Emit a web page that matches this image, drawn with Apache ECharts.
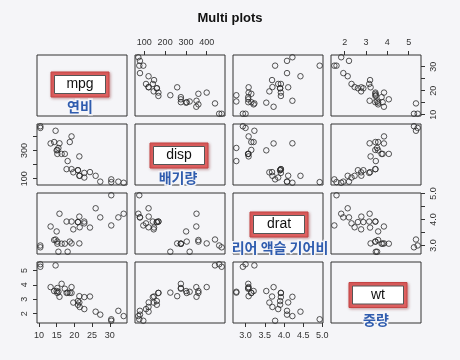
<!DOCTYPE html>
<html>
<head>
<meta charset="utf-8">
<script src="https://cdn.jsdelivr.net/npm/echarts@6/dist/echarts.min.js"></script>
<style>
html,body{margin:0;padding:0;background:#f5f5f8;}
#chart{width:460px;height:360px;}
</style>
</head>
<body>
<div id="chart"></div>
<script>
// ---- data (mtcars) ----
const varNames = ['mpg', 'disp', 'drat', 'wt'];
const koreanNames = ['연비', '배기량', '리어 액슬 기어비', '중량'];
const mpg  = [21.0,21.0,22.8,21.4,18.7,18.1,14.3,24.4,22.8,19.2,17.8,16.4,17.3,15.2,10.4,10.4,14.7,32.4,30.4,33.9,21.5,15.5,15.2,13.3,19.2,27.3,26.0,30.4,15.8,19.7,15.0,21.4];
const disp = [160,160,108,258,360,225,360,146.7,140.8,167.6,167.6,275.8,275.8,275.8,472,460,440,78.7,75.7,71.1,120.1,318,304,350,400,79,120.3,95.1,351,145,301,121];
const drat = [3.90,3.90,3.85,3.08,3.15,2.76,3.21,3.69,3.92,3.92,3.92,3.07,3.07,3.07,2.93,3.00,3.23,4.08,4.93,4.22,3.70,2.76,3.15,3.73,3.08,4.08,4.43,3.77,4.22,3.62,3.54,4.11];
const wt   = [2.620,2.875,2.320,3.215,3.440,3.460,3.570,3.190,3.150,3.440,3.440,4.070,3.730,3.780,5.250,5.424,5.345,2.200,1.615,1.835,2.465,3.520,3.435,3.840,3.845,1.935,2.140,1.513,3.170,2.770,3.570,2.780];

// tick positions and tick labels
const mpgTicks  = [10,15,20,25,30];
const dispTicks = [100,200,300,400];
const dratTicks = [3.0,3.5,4.0,4.5,5.0];
const wtTicks   = [2,3,4,5];
const mpgBottomLabels  = [10,15,20,25,30];
const mpgRightLabels   = [10,20,30];
const dispTopLabels    = [100,200,300,400];
const dispLeftLabels   = [100,300];
const dratBottomLabels = [3.0,3.5,4.0,4.5,5.0];
const dratRightLabels  = [3.0,4.0,5.0];
const wtTopLabels      = [2,3,4,5];
const wtLeftLabels     = [2,3,4,5];

const vars = [mpg, disp, drat, wt];
const ticks = [mpgTicks, dispTicks, dratTicks, wtTicks];
const decimals = [0, 0, 1, 0];
const hLabels = [mpgBottomLabels, dispTopLabels, dratBottomLabels, wtTopLabels];
const vLabels = [mpgRightLabels, dispLeftLabels, dratRightLabels, wtLeftLabels];

// R-style axis range: data range extended 4% each side
function rng(a){
  const lo = Math.min(...a), hi = Math.max(...a), e = (hi - lo) * 0.04;
  return [lo - e, hi + e];
}
const ranges = vars.map(rng);

// ---- layout ----
const colLeft = [37, 135, 233, 331];
const rowTop = [55, 124, 193, 262];
const PW = 90, PH = 61;
const FONT = '"Liberation Sans", Arial, sans-serif';
const KFONT = '"Noto Sans CJK KR", sans-serif';

const grids = [], xAxes = [], yAxes = [], series = [];
for (let i = 0; i < 4; i++) {
  for (let j = 0; j < 4; j++) {
    const p = i * 4 + j;
    grids.push({
      left: colLeft[j], top: rowTop[i], width: PW, height: PH,
      show: true, borderColor: '#333', borderWidth: 1, backgroundColor: 'transparent'
    });
    const diag = i === j;
    // x axis: top on row 0 for cols 1,3 ; bottom on row 3 for cols 0,2
    let xShow = false, xPos = 'bottom';
    if (!diag && i === 0 && (j === 1 || j === 3)) { xShow = true; xPos = 'top'; }
    if (!diag && i === 3 && (j === 0 || j === 2)) { xShow = true; xPos = 'bottom'; }
    // y axis: left on col 0 for rows 1,3 ; right on col 3 for rows 0,2
    let yShow = false, yPos = 'left';
    if (!diag && j === 0 && (i === 1 || i === 3)) { yShow = true; yPos = 'left'; }
    if (!diag && j === 3 && (i === 0 || i === 2)) { yShow = true; yPos = 'right'; }
    const dj = decimals[j], di = decimals[i];
    xAxes.push({
      gridIndex: p, type: 'value', min: ranges[j][0], max: ranges[j][1],
      position: xPos, show: !diag,
      axisLine: { show: false }, splitLine: { show: false },
      axisTick: { show: xShow, length: 4, inside: false, customValues: ticks[j], lineStyle: { color: '#333', width: 1 } },
      axisLabel: { show: xShow, customValues: hLabels[j], margin: 8, fontSize: 9, color: '#333', fontFamily: FONT,
                   formatter: v => Number(v).toFixed(dj) }
    });
    yAxes.push({
      gridIndex: p, type: 'value', min: ranges[i][0], max: ranges[i][1],
      position: yPos, show: !diag,
      axisLine: { show: false }, splitLine: { show: false },
      axisTick: { show: yShow, length: 4, inside: false, customValues: ticks[i], lineStyle: { color: '#333', width: 1 } },
      axisLabel: { show: yShow, customValues: vLabels[i], margin: 8, fontSize: 9, color: '#333', fontFamily: FONT, rotate: 90,
                   formatter: v => Number(v).toFixed(di) }
    });
    if (!diag) {
      series.push({
        type: 'scatter', xAxisIndex: p, yAxisIndex: p,
        symbol: 'circle', symbolSize: 5.5,
        itemStyle: { color: 'rgba(0,0,0,0)', borderColor: '#2a2a2a', borderWidth: 1 },
        emphasis: { disabled: true },
        data: vars[j].map((v, k) => [v, vars[i][k]])
      });
    }
  }
}

// diagonal name boxes + korean annotations
const boxCenters = [[80, 84.5], [179, 155.5], [279, 224.5], [378, 295]];
const korCenters = [[80, 107], [178, 178], [280, 248], [376, 320]];
const graphics = [];
for (let d = 0; d < 4; d++) {
  const [cx, cy] = boxCenters[d];
  const bw = 58, bh = 25;
  graphics.push({
    type: 'rect', z: 100,
    shape: { x: cx - bw / 2, y: cy - bh / 2, width: bw, height: bh },
    style: { fill: '#e06262', stroke: '#c44545', lineWidth: 1, shadowBlur: 3, shadowColor: 'rgba(120,0,0,0.35)', shadowOffsetX: 1, shadowOffsetY: 1 }
  });
  graphics.push({
    type: 'rect', z: 101,
    shape: { x: cx - bw / 2 + 3.5, y: cy - bh / 2 + 3.5, width: bw - 7, height: bh - 7 },
    style: { fill: '#ffffff', stroke: '#555', lineWidth: 1 }
  });
  graphics.push({
    type: 'text', z: 102, x: cx, y: cy,
    style: { text: varNames[d], fill: '#111', font: '14px ' + FONT, align: 'center', verticalAlign: 'middle' }
  });
  const [kx, ky] = korCenters[d];
  graphics.push({
    type: 'text', z: 103, x: kx, y: ky,
    style: { text: koreanNames[d], fill: '#2f5cae', font: 'bold 14px ' + KFONT, align: 'center', verticalAlign: 'middle',
             stroke: '#f5f5f8', lineWidth: 3 }
  });
}

const chart = echarts.init(document.getElementById('chart'), null, { renderer: 'canvas' });
chart.setOption({
  backgroundColor: '#f5f5f8',
  animation: false,
  title: { text: 'Multi plots', left: 'center', top: 12, padding: 0,
           textStyle: { fontSize: 13, fontWeight: 'bold', color: '#111', fontFamily: FONT } },
  grid: grids, xAxis: xAxes, yAxis: yAxes, series: series,
  graphic: { elements: graphics }
});
</script>
</body>
</html>
